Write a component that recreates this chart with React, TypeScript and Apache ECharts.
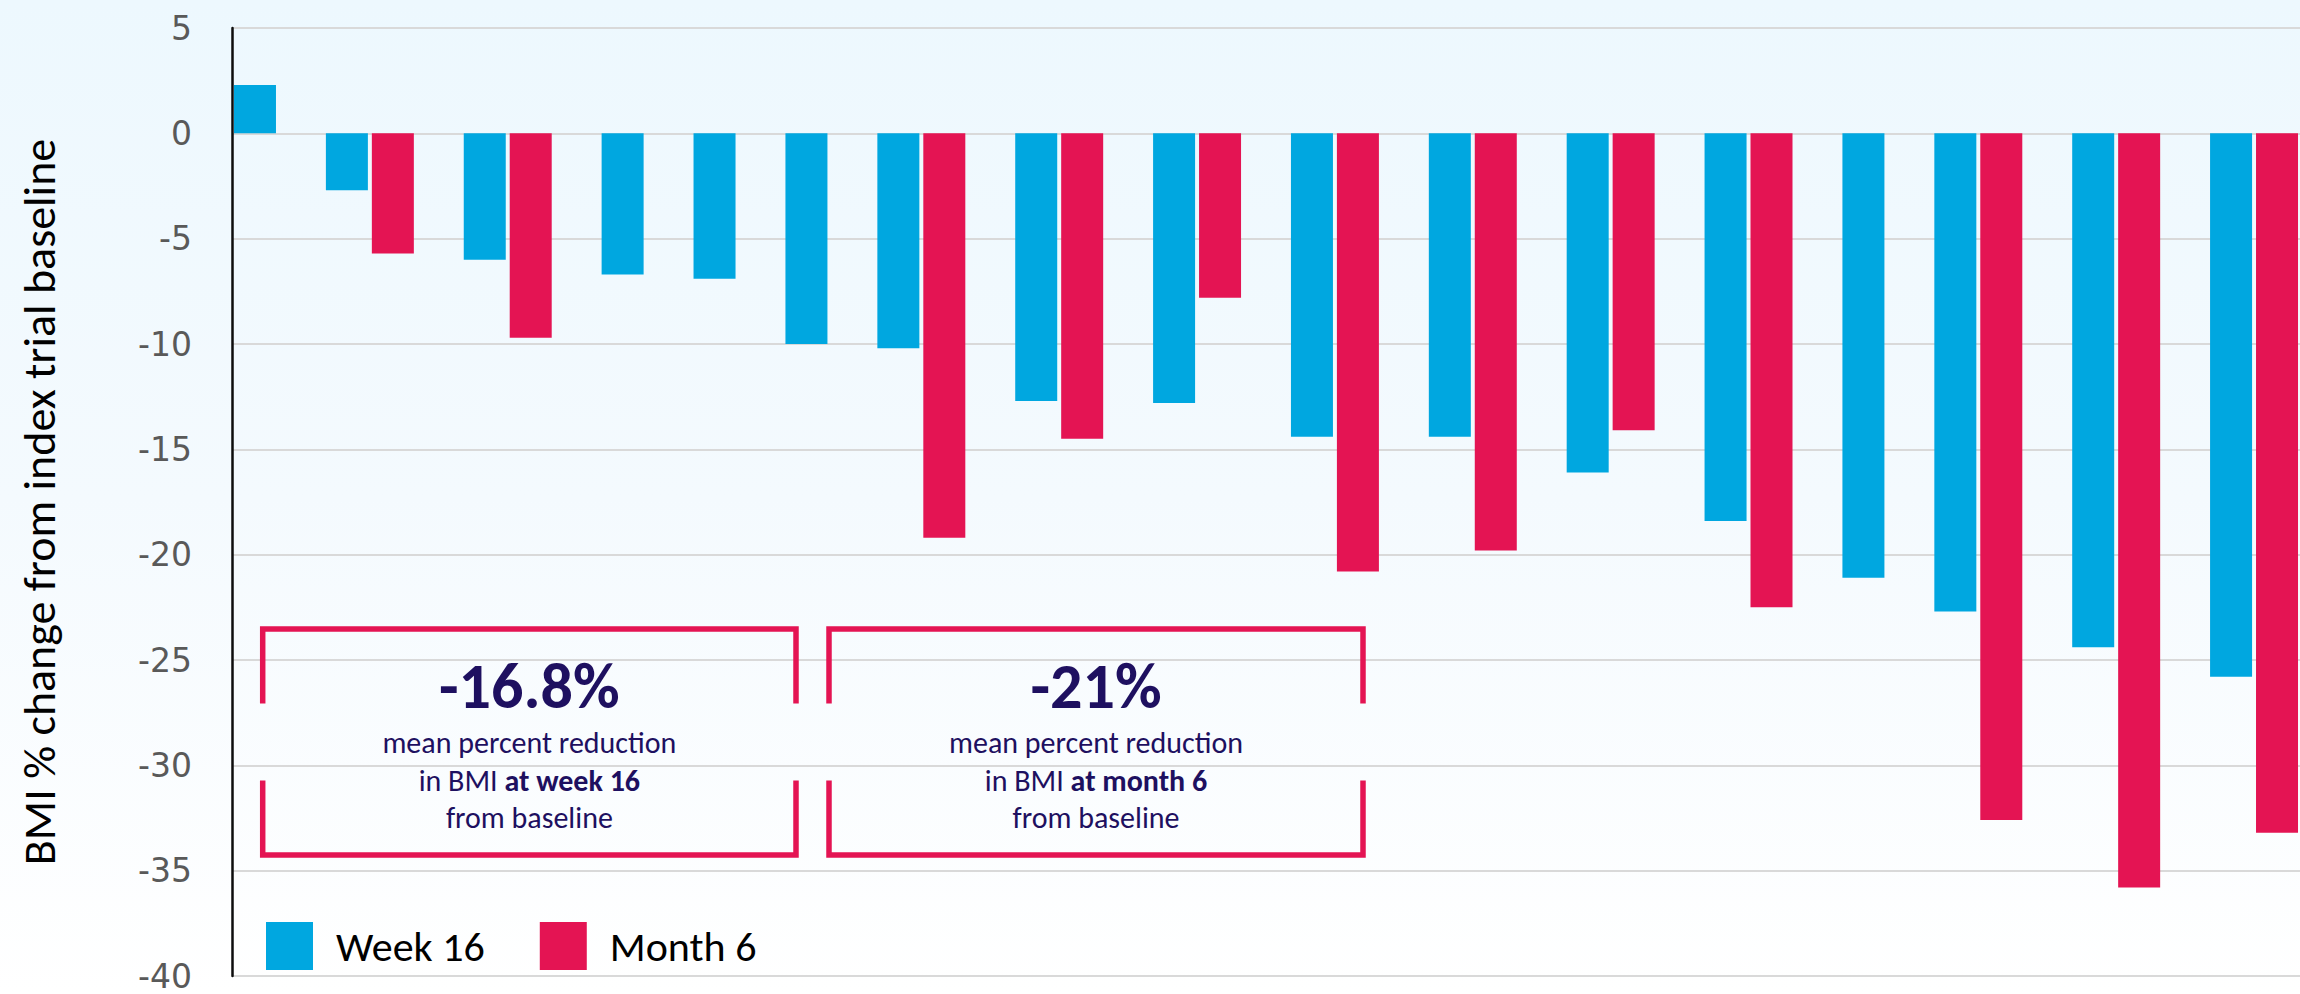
import React, { useEffect, useRef } from "react";
import * as echarts from "echarts";

// ---- data ----
const patients = ["P1","P2","P3","P4","P5","P6","P7","P8","P9","P10","P11","P12","P13","P14","P15","P16","P17"];
const week16: number[] = [2.3, -2.7, -6.0, -6.7, -6.9, -10.0, -10.2, -12.7, -12.8, -14.4, -14.4, -16.1, -18.4, -21.1, -22.7, -24.4, -25.8];
const month6: (number | null)[] = [null, -5.7, -9.7, null, null, null, -19.2, -14.5, -7.8, -20.8, -19.8, -14.1, -22.5, null, -32.6, -35.8, -33.2];
const seriesNames = ["Week 16", "Month 6"];
const yAxisTitle = "BMI % change from index trial baseline";
const annotations = [
  { value: "-16.8%", when: "at week 16" },
  { value: "-21%", when: "at month 6" },
];

const BLUE = "#00A7E0";
const RED = "#E41453";
const NAVY = "#1E1060";
const CAL = 'Calibri, Carlito, Lato, "Open Sans", sans-serif';

function buildSlots() {
  const slots: string[] = [];
  const wk: (number | null)[] = [];
  const mo: (number | null)[] = [];
  patients.forEach((p, i) => {
    slots.push(p + "-w16");
    wk.push(week16[i]);
    mo.push(null);
    if (month6[i] !== null) {
      slots.push(p + "-m6");
      wk.push(null);
      mo.push(month6[i]);
    }
    if (i < patients.length - 1) {
      slots.push(p + "-gap");
      wk.push(null);
      mo.push(null);
    }
  });
  return { slots, wk, mo };
}

function bracketBox(left: number, right: number, top: number, bottom: number, topEnd: number, botStart: number, ann: { value: string; when: string }) {
  const stroke = { stroke: RED, lineWidth: 5.5, fill: null as any };
  const cx = (left + right) / 2;
  return {
    type: "group",
    children: [
      { type: "polyline", shape: { points: [[left, topEnd], [left, top], [right, top], [right, topEnd]] }, style: stroke, z: 10 },
      { type: "polyline", shape: { points: [[left, botStart], [left, bottom], [right, bottom], [right, botStart]] }, style: stroke, z: 10 },
      {
        type: "text", x: cx, y: 686, z: 11,
        style: { text: ann.value, fill: NAVY, font: `bold 64px ${CAL}`, align: "center", verticalAlign: "middle" },
      },
      {
        type: "text", x: cx, y: 780, z: 11,
        style: {
          text: `{n|mean percent reduction}\n{n|in BMI }{b|${ann.when}}\n{n|from baseline}`,
          align: "center", verticalAlign: "middle",
          rich: {
            n: { fill: NAVY, fontFamily: CAL, fontSize: 30, lineHeight: 37.5 },
            b: { fill: NAVY, fontFamily: CAL, fontSize: 30, fontWeight: "bold", lineHeight: 37.5 },
          },
        },
      },
    ],
  };
}

export default function App() {
  const ref = useRef<HTMLDivElement>(null);
  useEffect(() => {
    document.body.style.margin = "0";
    const chart = echarts.init(ref.current!, null, { renderer: "svg" });
    const { slots, wk, mo } = buildSlots();
    chart.setOption({
      animation: false,
      backgroundColor: {
        type: "linear", x: 0, y: 0, x2: 0, y2: 1,
        colorStops: [
          { offset: 0, color: "#EDF8FE" },
          { offset: 0.5, color: "#F4FAFE" },
          { offset: 1, color: "#FFFFFF" },
        ],
      },
      grid: { left: 232, right: 0, top: 28, bottom: 18, containLabel: false },
      legend: {
        left: 261, top: 917,
        icon: "rect", itemWidth: 47, itemHeight: 48, itemGap: 55,
        textStyle: { fontFamily: CAL, fontSize: 42, color: "#000", padding: [0, 0, 0, 18] },
        data: seriesNames,
      },
      xAxis: {
        type: "category", data: slots, boundaryGap: true,
        axisLine: { show: false }, axisTick: { show: false }, axisLabel: { show: false },
        splitLine: { show: false },
      },
      yAxis: {
        type: "value", min: -40, max: 5, interval: 5,
        axisLine: { show: true, lineStyle: { color: "#0D0D0D", width: 2.5 } },
        axisTick: { show: false },
        axisLabel: { fontFamily: '"DejaVu Sans", Verdana, sans-serif', fontSize: 33, lineHeight: 26, color: "#595959", margin: 40 },
        splitLine: { show: true, lineStyle: { color: "#D9D9D9", width: 2 } },
        name: yAxisTitle, nameLocation: "middle", nameRotate: 90, nameGap: 193,
        nameTextStyle: { fontFamily: CAL, fontSize: 46, color: "#000", verticalAlign: "middle" },
      },
      series: [
        { name: seriesNames[0], type: "bar", data: wk, barWidth: 42, barGap: "-100%", itemStyle: { color: BLUE } },
        { name: seriesNames[1], type: "bar", data: mo, barWidth: 42, barGap: "-100%", itemStyle: { color: RED } },
      ],
      graphic: [
        bracketBox(262.7, 796, 629, 855, 703.5, 780.6, annotations[0]),
        bracketBox(829, 1363, 629, 855, 703.5, 780.6, annotations[1]),
      ],
    });
    return () => chart.dispose();
  }, []);
  return <div ref={ref} style={{ position: "absolute", left: 0, top: 0, width: 2300, height: 994 }} />;
}
